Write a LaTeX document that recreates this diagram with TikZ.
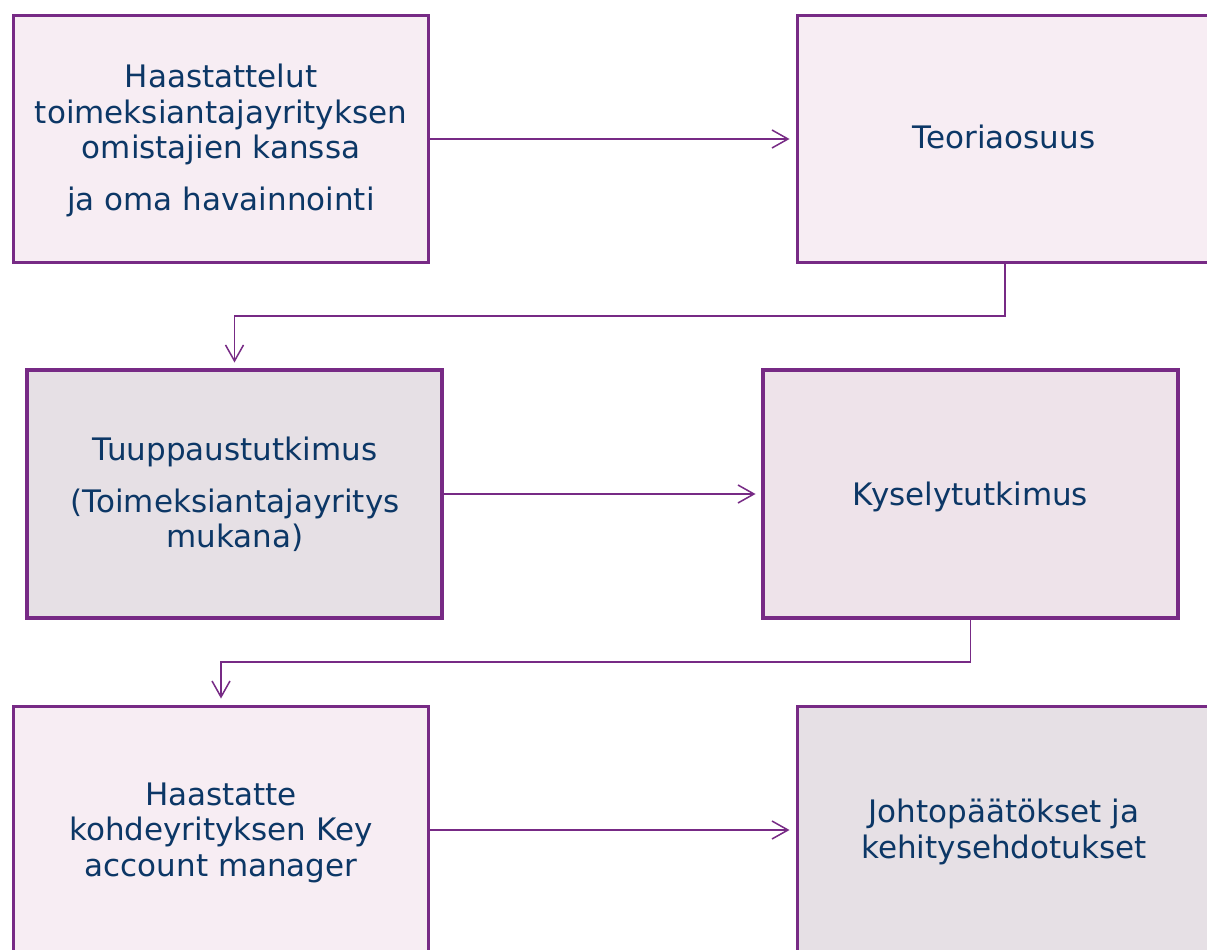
\documentclass[tikz,border=0pt]{standalone}
\usepackage{fontspec}
\setmainfont{DejaVu Sans}
\usetikzlibrary{arrows.meta}
\definecolor{bord}{HTML}{772A85}
\definecolor{pinkfill}{HTML}{F7EDF3}
\definecolor{grayfill}{HTML}{E6E0E5}
\definecolor{midfill}{HTML}{EEE3EA}
\definecolor{txt}{HTML}{0C3766}
\tikzset{
  box/.style={draw=bord, line width=3.5pt, rectangle, inner sep=0pt, outer sep=0pt},
  conn/.style={draw=bord, line width=1.5pt, -{Straight Barb[length=16pt,width=18pt,line width=1.5pt]}},
  lbl/.style={text=txt, font=\fontsize{31}{35}\selectfont, anchor=base, inner sep=0pt}
}
\begin{document}
\begin{tikzpicture}[x=1pt,y=-1pt]
\useasboundingbox (0,0) rectangle (1207,950);
\clip (0,0) rectangle (1207,950);
\fill[white] (0,0) rectangle (1207,950);
% boxes
\node[box, fill=pinkfill, minimum width=415pt, minimum height=247pt] (b1) at (221,139) {};
\node[box, fill=pinkfill, minimum width=415pt, minimum height=247pt] (b2) at (1005,139) {};
\node[box, fill=grayfill, minimum width=415pt, minimum height=248pt] (b3) at (234.5,494) {};
\node[box, fill=midfill, minimum width=415pt, minimum height=248pt] (b4) at (970.5,494) {};
\node[box, fill=pinkfill, minimum width=415pt, minimum height=247pt] (b5) at (221,830) {};
\node[box, fill=grayfill, minimum width=415pt, minimum height=247pt] (b6) at (1005,830) {};
% texts
\node[lbl] (t1a) at (221,88) {Haastattelut};
\node[lbl] (t1b) at (221,123) {toimeksiantajayrityksen};
\node[lbl] (t1c) at (221,158) {omistajien kanssa};
\node[lbl] (t1d) at (221,210) {ja oma havainnointi};
\node[lbl] (t2) at (1004,148) {Teoriaosuus};
\node[lbl] (t3a) at (235,460) {Tuuppaustutkimus};
\node[lbl] (t3b) at (235,512) {(Toimeksiantajayritys};
\node[lbl] (t3c) at (235,547) {mukana)};
\node[lbl] (t4) at (970.5,505) {Kyselytutkimus};
\node[lbl] (t5a) at (221,805) {Haastatte};
\node[lbl] (t5b) at (221,840) {kohdeyrityksen Key};
\node[lbl] (t5c) at (221,876) {account manager};
\node[lbl] (t6a) at (1004,822) {Johtopäätökset ja};
\node[lbl] (t6b) at (1004,858) {kehitysehdotukset};
% connectors
\coordinate (c1) at (600,316);
\coordinate (c2) at (600,662);
\draw[conn, shorten >=8pt] (b1.east) -- (b2.west);
\draw[conn, shorten >=7.5pt] (b2.south) |- (c1) -| (b3.north);
\draw[conn, shorten >=7.5pt] (b3.east) -- (b4.west);
\draw[conn, shorten >=8pt] (b4.south) |- (c2) -| (b5.north);
\draw[conn, shorten >=8pt] (b5.east) -- (b6.west);
\end{tikzpicture}
\end{document}
